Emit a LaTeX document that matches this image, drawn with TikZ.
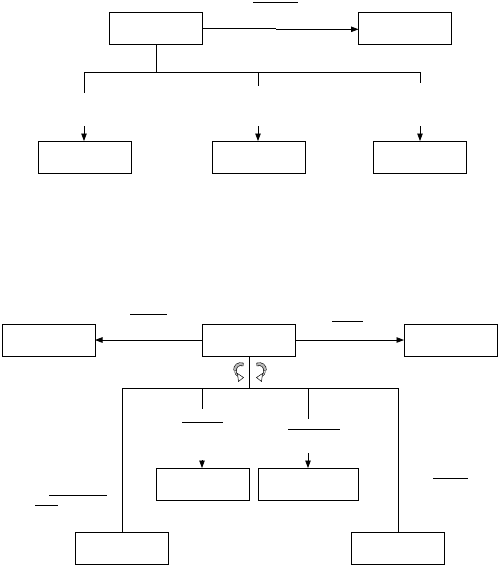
\documentclass[tikz,border=0pt]{standalone}
\usetikzlibrary{arrows.meta}
\begin{document}
\begin{tikzpicture}[x=1pt,y=-1pt,
  box/.style={draw,line width=0.75pt,inner sep=0pt,outer sep=0pt,minimum width=93pt,minimum height=32pt},
  ln/.style={line width=0.75pt},
  arr/.style={line width=0.75pt,-{Triangle[length=7.5pt,width=5.5pt]}},
  rotband/.pic={
    \draw[line width=3.4pt,black] (10.5,2.5) .. controls (5,1) and (2,4) .. (2,8.5);
    \draw[line width=2.2pt,gray!55] (10.3,2.5) .. controls (5,1) and (2,4) .. (2,8.3);
    \draw[line width=0.5pt] (1.8,8.5) .. controls (1.8,12) and (3,13.5) .. (5,14.5);
    \draw[line width=0.5pt] (3.2,8.5) .. controls (3.2,11) and (4,12.5) .. (5.5,13);
    \draw[line width=0.5pt,fill=white] (4.5,11.5) -- (10.5,15.5) -- (5.5,19.5) -- cycle;
  }]
\useasboundingbox (0,0) rectangle (498,566);
% top section
\node[box] (A) at (155.5,28) {};
\node[box] (B) at (405,28) {};
\node[box] (C1) at (85,157) {};
\node[box] (C2) at (259,157) {};
\node[box] (C3) at (420,157) {};
\coordinate (k1) at (276,28);
\coordinate (k2) at (276,29.3);
\draw[ln] (A.east) -- (k1);
\draw[arr] (k2) -- (B.west|-k2);
\draw[ln] (253,2) -- (298,2);
\coordinate (t0) at (156,72);
\draw[ln] (A.south-|t0) -- (t0);
\coordinate (h1) at (84,72);
\coordinate (h2) at (420,72);
\draw[ln] (h1) -- (h2);
\coordinate (v1) at (84,93);
\coordinate (v2) at (258,86);
\coordinate (v3) at (420,83);
\draw[ln] (h1) -- (v1);
\draw[ln] (v2|-h1) -- (v2);
\draw[ln] (h2) -- (v3);
\coordinate (a1) at (84,126);
\coordinate (a2) at (258,126);
\coordinate (a3) at (420,126);
\draw[arr] (a1) -- (C1.north-|a1);
\draw[arr] (a2) -- (C2.north-|a2);
\draw[arr] (a3) -- (C3.north-|a3);
% bottom section
\node[box] (L) at (48.5,340) {};
\node[box] (M) at (249,340) {};
\node[box] (R) at (450.5,340) {};
\node[box] (D1) at (202.5,484) {};
\node[box,minimum width=100pt] (D2) at (308,484) {};
\node[box] (E1) at (121.5,548) {};
\node[box] (E2) at (397.5,548) {};
\draw[arr] (M.west) -- (L.east);
\draw[arr] (M.east) -- (R.east-|R.west);
\draw[ln] (130,314) -- (167,314);
\draw[ln] (332,321) -- (363,321);
\coordinate (j) at (249,388);
\draw[ln] (M.south) -- (j);
\pic at (233,362) {rotband};
\pic[xscale=-1] at (267,362) {rotband};
\coordinate (jl) at (122,388);
\coordinate (jr) at (398,388);
\draw[ln] (jl) -- (jr);
\draw[ln] (249,388.8) -- (308,388.8);
\draw[ln] (jl) -- (E1.north-|jl);
\draw[ln] (jr) -- (E2.north-|jr);
\coordinate (m1) at (202,409);
\coordinate (m2) at (308,419);
\draw[ln] (m1|-jl) -- (m1);
\draw[ln] (m2|-jl) -- (m2);
\draw[ln] (182,422) -- (223,422);
\draw[ln] (288,429) -- (340,429);
\coordinate (b1) at (202,460);
\coordinate (b2) at (308,453);
\draw[arr] (b1) -- (D1.north-|b1);
\draw[arr] (b2) -- (D2.north-|b2);
\draw[ln] (49,495) -- (107,495);
\draw[ln] (35,505) -- (58,505);
\draw[ln] (433,478) -- (468,478);
\end{tikzpicture}
\end{document}
